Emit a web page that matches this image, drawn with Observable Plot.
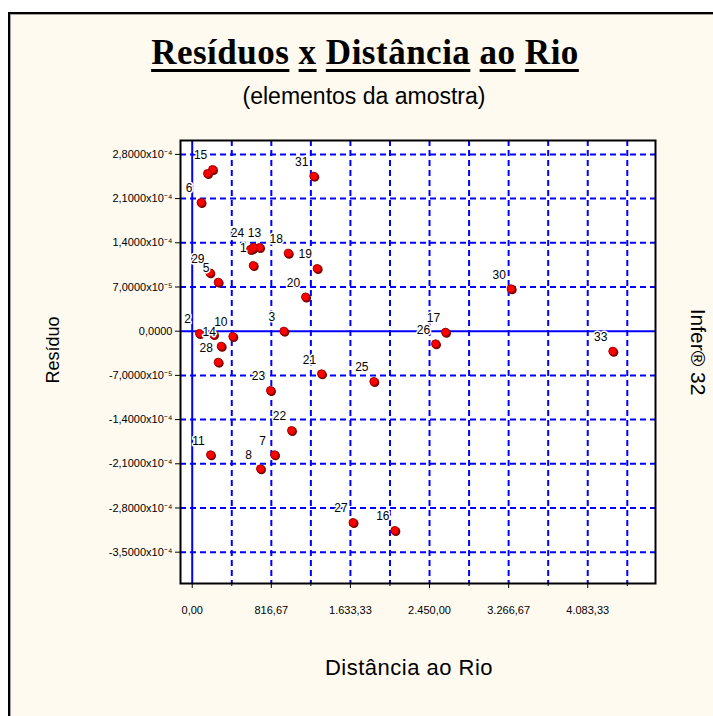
<!DOCTYPE html>
<html>
<head>
<meta charset="utf-8">
<script src="https://cdn.jsdelivr.net/npm/d3@7"></script>
<script src="https://cdn.jsdelivr.net/npm/@observablehq/plot@0.6"></script>
<style>
  html, body { margin: 0; padding: 0; background: #ffffff; }
  #page { position: relative; width: 713px; height: 716px; overflow: hidden; background: #ffffff; }
  #panel { position: absolute; left: 8px; top: 12px; width: 720px; height: 720px; background: #fffaf0;
           border-left: 2px solid #000; border-top: 2px solid #000; box-shadow: inset 1px 1px 0 #a0a0a0; }
  #chart { position: absolute; left: 0; top: 0; }
  .t { position: absolute; white-space: nowrap; color: #000; line-height: 1; }
  #title { left: 0; width: 730px; top: 35px; text-align: center; font-family: "Liberation Serif", serif; font-weight: bold; font-size: 35px; letter-spacing: 0.5px; }
  #title u { text-decoration-thickness: 3px; text-underline-offset: 5px; }
  #subtitle { left: 0; width: 728px; top: 85px; text-align: center; font-family: "Liberation Sans", sans-serif; font-size: 23px; }
  #xlabel { left: 0; width: 818px; top: 657px; text-align: center; font-family: "Liberation Sans", sans-serif; font-size: 22px; letter-spacing: 0.5px; }
  #ylabel { left: 53px; top: 350px; transform: translate(-50%, -50%) rotate(-90deg); font-family: "Liberation Sans", sans-serif; font-size: 18px; }
  #right { left: 698px; top: 352px; transform: translate(-50%, -50%) rotate(90deg); font-family: "Liberation Sans", sans-serif; font-size: 21px; }
</style>
</head>
<body>
<div id="page">
  <div id="panel"></div>
  <div id="chart"></div>
  <div class="t" id="title"><u>Resíduos</u> <u>x</u> <u>Distância</u> <u>ao</u> <u>Rio</u></div>
  <div class="t" id="subtitle">(elementos da amostra)</div>
  <div class="t" id="xlabel">Distância ao Rio</div>
  <div class="t" id="ylabel">Resíduo</div>
  <div class="t" id="right">Infer® 32</div>
</div>
<script>
// ---- data ----
const ids       = [1, 2, 3, 4, 5, 6, 7, 8, 9, 10, 11, 12, 13, 14, 15, 16, 17, 18, 19, 20, 21, 22, 23, 24, 25, 26, 27, 28, 29, 30, 31, 32, 33];
const distances = [622, 75, 946, 220, 268, 91, 850, 705, 630, 419, 189, 602, 695, 299, 210, 2092, 2615, 991, 1290, 1170, 1335, 1025, 808, 633, 1875, 2512, 1660, 268, 182, 3293, 1255, 158, 4342];
const residuals = [1.31e-4, -3.6e-6, 0, -5.2e-6, 7.76e-5, 2.038e-4, -1.957e-4, -2.179e-4, 1.04e-4, -8.4e-6, -1.957e-4, 1.294e-4, 1.326e-4, -2.38e-5, 2.561e-4, -3.156e-4, -1.6e-6, 1.235e-4, 9.93e-5, 5.42e-5, -6.75e-5, -1.573e-4, -9.39e-5, 1.326e-4, -7.97e-5, -2.0e-5, -3.03e-4, -4.91e-5, 9.25e-5, 6.71e-5, 2.455e-4, 2.497e-4, -3.17e-5];
const hiddenLabels = [4, 9, 12, 32];

const yTicks      = [2.8e-4, 2.1e-4, 1.4e-4, 7e-5, 0, -7e-5, -1.4e-4, -2.1e-4, -2.8e-4, -3.5e-4];
const yTickLabels = ["2,8000x10⁻⁴", "2,1000x10⁻⁴", "1,4000x10⁻⁴", "7,0000x10⁻⁵", "0,0000", "-7,0000x10⁻⁵", "-1,4000x10⁻⁴", "-2,1000x10⁻⁴", "-2,8000x10⁻⁴", "-3,5000x10⁻⁴"];
const xTicks      = [0, 816.67, 1633.33, 2450, 3266.67, 4083.33];
const xTickLabels = ["0,00", "816,67", "1.633,33", "2.450,00", "3.266,67", "4.083,33"];
const xGrid       = [408.33, 816.67, 1225, 1633.33, 2041.67, 2450, 2858.33, 3266.67, 3675, 4083.33, 4491.67];
const xDomain = [-121, 4783];
const yDomain = [-3.996e-4, 3.02e-4];

// label placement (style): default up-left of the marker, a few nudged as in the reference
const labelOffset = {1: [-9, 0], 24: [-16, -14], 13: [-5, -14]};

const points = ids.map((id, i) => ({
  id, x: distances[i], y: residuals[i],
  label: hiddenLabels.includes(id) ? "" : String(id),
  ox: (labelOffset[id] || [-12, -14])[0],
  oy: (labelOffset[id] || [-12, -14])[1]
}));
const BLUE = "#0000ff";

const chart = Plot.plot({
  width: 713,
  height: 716,
  marginLeft: 180,
  marginRight: 58,
  marginTop: 140,
  marginBottom: 133,
  style: {background: "transparent", fontFamily: "Liberation Sans, sans-serif", color: "#000"},
  x: {domain: xDomain},
  y: {domain: yDomain},
  marks: [
    Plot.frame({fill: "white", stroke: "none"}),
    Plot.ruleY(yTicks.filter(d => d !== 0), {stroke: BLUE, strokeWidth: 2, strokeDasharray: "6,4"}),
    Plot.ruleX(xGrid, {stroke: BLUE, strokeWidth: 2, strokeDasharray: "6,4"}),
    Plot.ruleX([0], {stroke: BLUE, strokeWidth: 2}),
    Plot.ruleY([0], {stroke: BLUE, strokeWidth: 2}),
    Plot.dot(points, {x: "x", y: "y", r: 4.5, fill: "#7a0000", dx: 1, dy: 1}),
    Plot.dot(points, {x: "x", y: "y", r: 4, fill: "#ff0000", stroke: "#a00000", strokeWidth: 1}),
    Plot.text(points, {
      x: (d) => d.x, y: (d) => d.y, text: "label",
      render: (index, scales, values, dims, ctx, next) => {
        const g = next(index, scales, values, dims, ctx);
        d3.select(g).selectAll("text").each(function(i) {
          const p = points[i];
          d3.select(this).attr("transform", `translate(${values.x[i] + p.ox},${values.y[i] + p.oy})`);
        });
        return g;
      },
      fontSize: 12, fill: "black", stroke: "white", strokeWidth: 3
    }),
    Plot.frame({stroke: "black", strokeWidth: 2}),
    Plot.axisY({ticks: yTicks, tickFormat: d => yTickLabels[yTicks.indexOf(d)], tickSize: 5, tickPadding: 3, fontSize: 11, label: null}),
    Plot.axisX({ticks: xTicks, tickFormat: d => xTickLabels[xTicks.indexOf(d)], tickSize: 5, tickPadding: 18, fontSize: 11, label: null}),
    Plot.axisX({ticks: xGrid.filter(d => !xTicks.includes(d)), tickFormat: () => "", tickSize: 3, label: null})
  ]
});
document.getElementById("chart").appendChild(chart);
</script>
</body>
</html>
